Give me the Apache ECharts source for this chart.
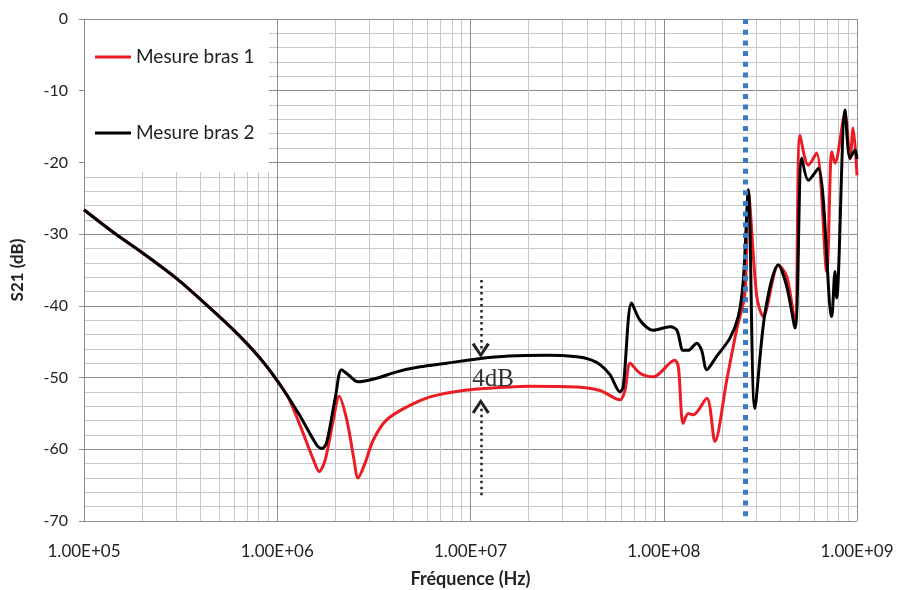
<!DOCTYPE html>
<html>
<head>
<meta charset="utf-8">
<script src="https://cdn.jsdelivr.net/npm/echarts@6/dist/echarts.min.js"></script>
<style>
  html, body { margin: 0; padding: 0; background: #fff; }
  #chart { width: 899px; height: 590px; }
</style>
</head>
<body>
<div id="chart"></div>
<script>
// Mesure bras 1 (rouge) : fréquence (Hz) / S21 (dB)
const freq1 = [1.00e5, 1.41e5, 2.03e5, 3.02e5, 4.32e5, 6.17e5, 8.15e5, 1.01e6,
  1.15e6, 1.31e6, 1.54e6, 1.65e6, 1.77e6, 1.95e6, 2.09e6, 2.29e6, 2.48e6, 2.62e6,
  2.84e6, 3.14e6, 3.68e6, 4.68e6, 6.17e6, 8.15e6, 1.08e7, 2.00e7, 3.55e7, 4.68e7,
  5.94e7, 6.31e7, 6.70e7, 7.53e7, 8.83e7, 1.14e8, 1.19e8, 1.26e8, 1.34e8, 1.42e8,
  1.67e8, 1.84e8, 2.12e8, 2.38e8, 2.63e8, 2.74e8, 3.03e8, 3.27e8, 3.92e8, 4.33e8,
  4.78e8, 5.07e8, 5.60e8, 6.18e8, 6.97e8, 7.40e8, 7.69e8, 8.67e8, 9.20e8, 9.55e8, 1.00e9];
const bras1 = [-26.6, -29.7, -32.7, -36.2, -39.9, -43.8, -47.3, -50.6,
  -53.0, -56.6, -61.5, -63.1, -61.5, -55.9, -52.6, -55.9, -61.0, -64.0,
  -62.0, -58.7, -55.9, -54.1, -52.7, -52.0, -51.6, -51.2, -51.3, -51.8,
  -53.1, -51.7, -48.0, -49.4, -49.9, -47.6, -48.5, -56.4, -55.0, -55.2,
  -52.9, -58.9, -50.3, -43.4, -38.3, -24.3, -38.7, -41.5, -34.3, -35.9,
  -42.4, -16.2, -20.4, -18.7, -35.2, -18.5, -20.1, -13.2, -19.5, -15.2, -21.8];

// Mesure bras 2 (noir)
const freq2 = [1.00e5, 1.41e5, 2.03e5, 3.02e5, 4.32e5, 6.17e5, 8.15e5, 1.01e6,
  1.29e6, 1.60e6, 1.70e6, 1.80e6, 2.00e6, 2.15e6, 2.33e6, 2.62e6, 3.27e6, 4.15e6,
  5.48e6, 7.53e6, 1.08e7, 1.58e7, 2.51e7, 3.55e7, 4.17e7, 4.68e7, 5.27e7, 5.94e7,
  6.17e7, 6.82e7, 7.53e7, 8.83e7, 1.08e8, 1.17e8, 1.26e8, 1.34e8, 1.48e8, 1.57e8,
  1.67e8, 1.87e8, 2.20e8, 2.43e8, 2.58e8, 2.74e8, 2.96e8, 3.34e8, 3.92e8, 4.33e8,
  4.78e8, 5.18e8, 5.60e8, 6.31e8, 7.40e8, 7.69e8, 7.85e8, 8.67e8, 9.20e8, 9.77e8, 1.00e9];
const bras2 = [-26.6, -29.7, -32.7, -36.2, -39.9, -43.8, -47.3, -50.6,
  -55.0, -59.4, -59.9, -59.1, -52.7, -48.9, -49.6, -50.6, -50.1, -49.2,
  -48.5, -48.0, -47.4, -47.0, -46.9, -47.1, -47.5, -48.2, -49.6, -52.0,
  -51.3, -39.6, -42.0, -43.4, -42.9, -43.4, -46.2, -46.2, -45.2, -46.2,
  -48.9, -47.1, -44.5, -41.5, -36.4, -23.8, -54.3, -41.0, -34.3, -37.3,
  -43.1, -19.4, -22.5, -20.8, -41.5, -35.2, -38.9, -12.7, -19.4, -18.3, -19.5];

const seriesNames = ["Mesure bras 1", "Mesure bras 2"];

// repère vertical (pointillé bleu) et annotation 4 dB
const markerFreq = 2.63e8;
const gapFreq = 1.13e7;
const gapTop = [-36.4, -46.2];     // flèche du haut : départ, pointe
const gapBottom = [-66.4, -54.0];  // flèche du bas : départ, pointe
const gapLabel = [1.31e7, -50.2, "4dB"];

(function () {
  "use strict";
  const chart = echarts.init(document.getElementById("chart"));
  const zip = (xs, ys) => xs.map((x, i) => [x, ys[i]]);
  const fmtSci = v => {
    const [m, e] = (+v).toExponential(2).toUpperCase().split("E");
    const sign = e[0] === "-" ? "-" : "+";
    const exp = e.replace(/[+-]/, "").padStart(2, "0");
    return `${m}E${sign}${exp}`;
  };
  // chevron ouvert (pointe vers le haut, tourné par markLine)
  const chevron = "path://M0,12 L8,0 L16,12 L13.6,13.4 L8,4.6 L2.4,13.4 Z";
  const font = "Lato, 'Open Sans', sans-serif";

  chart.setOption({
    animation: false,
    backgroundColor: "#fff",
    grid: { left: 84, right: 42, top: 19, bottom: 69, containLabel: false, outerBoundsMode: "none" },
    legend: {
      orient: "vertical", left: 95, top: 47, z: 6, padding: 0,
      icon: "rect", itemWidth: 36, itemHeight: 3, itemGap: 56,
      textStyle: { fontFamily: font, fontSize: 19, color: "#222", lineHeight: 20 },
      data: seriesNames,
    },
    graphic: [{
      type: "rect", z: 3, silent: true,
      shape: { x: 85, y: 20, width: 184, height: 152 },
      style: { fill: "#fff" },
    }],
    xAxis: {
      type: "log", logBase: 10, min: 1e5, max: 1e9,
      name: "Fréquence (Hz)", nameLocation: "middle", nameGap: 49,
      nameTextStyle: { fontFamily: font, fontSize: 18, fontWeight: "bold", color: "#222" },
      axisLine: { lineStyle: { color: "#8c8c8c" } },
      axisTick: { show: false },
      axisLabel: { margin: 22, fontFamily: font, fontSize: 17, color: "#222", formatter: fmtSci },
      splitLine: { show: true, lineStyle: { color: "#8c8c8c", width: 1 } },
      minorTick: { show: false, splitNumber: 9 },
      minorSplitLine: { show: true, lineStyle: { color: "#c8c8c8", width: 1 } },
    },
    yAxis: {
      type: "value", min: -70, max: 0, interval: 10,
      name: "S21 (dB)", nameLocation: "middle", nameGap: 58, nameRotate: 90,
      nameTextStyle: { fontFamily: font, fontSize: 17, fontWeight: "bold", color: "#222" },
      axisLine: { show: true, lineStyle: { color: "#8c8c8c" } },
      axisTick: { show: true, length: 5, lineStyle: { color: "#8c8c8c" } },
      axisLabel: { margin: 16, fontFamily: font, fontSize: 16, color: "#222" },
      splitLine: { show: true, lineStyle: { color: "#8c8c8c", width: 1 } },
      minorTick: { show: false, splitNumber: 5 },
      minorSplitLine: { show: true, lineStyle: { color: "#c8c8c8", width: 1 } },
    },
    series: [
      {
        name: seriesNames[0], type: "line", data: zip(freq1, bras1),
        showSymbol: false, z: 2, smooth: 0.3,
        lineStyle: { color: "#ec1c24", width: 3 }, itemStyle: { color: "#ec1c24" },
        markLine: {
          silent: true, symbol: "none", label: { show: false },
          lineStyle: { color: "#3a7cc4", width: 5, type: [5, 5.7] },
          data: [[{ coord: [markerFreq, 0] }, { coord: [markerFreq, -70] }]],
        },
      },
      {
        name: seriesNames[1], type: "line", data: zip(freq2, bras2),
        showSymbol: false, z: 3, smooth: 0.3,
        lineStyle: { color: "#000", width: 3 }, itemStyle: { color: "#000" },
        markLine: {
          silent: true, symbol: ["none", chevron], symbolSize: [18, 15],
          label: { show: false },
          lineStyle: { color: "#222", width: 2.5, type: [2.5, 3.5] },
          data: [
            [{ coord: [gapFreq, gapTop[0]] }, { coord: [gapFreq, gapTop[1]] }],
            [{ coord: [gapFreq, gapBottom[0]] }, { coord: [gapFreq, gapBottom[1]] }],
          ],
        },
        markPoint: {
          silent: true, symbol: "circle", symbolSize: 0,
          label: { show: true, position: "inside", formatter: gapLabel[2],
            fontFamily: "'Liberation Serif', 'DejaVu Serif', serif", fontSize: 25, color: "#333" },
          data: [{ coord: [gapLabel[0], gapLabel[1]] }],
        },
      },
    ],
  });

  window.addEventListener("resize", () => chart.resize());
})();
</script>
</body>
</html>
